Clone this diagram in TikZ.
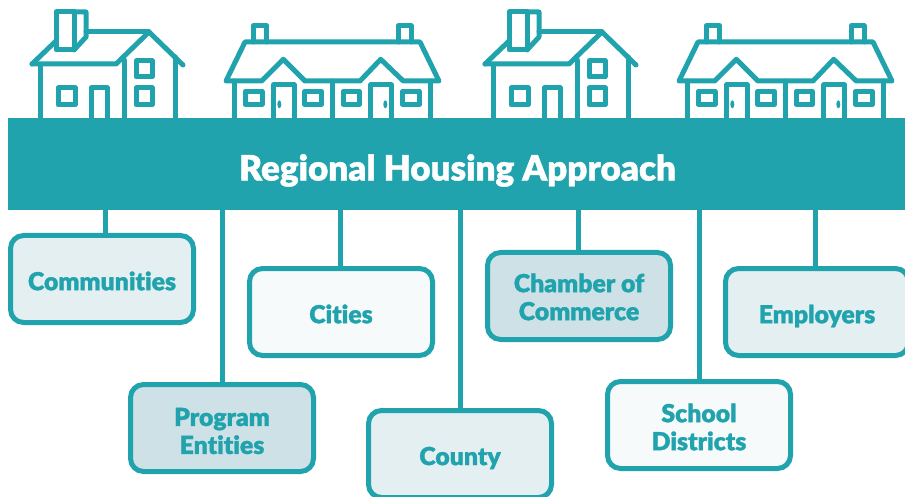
\documentclass[tikz,border=0pt]{standalone}
\usepackage{fontspec}
\setmainfont{Lato}[BoldFont=Lato Black,BoldFeatures={FakeBold=1.2},Ligatures=NoCommon]
\definecolor{teal1}{HTML}{21A3AD}
\definecolor{fillA}{HTML}{E4EFF1}
\definecolor{fillB}{HTML}{CDE1E6}
\definecolor{fillC}{HTML}{F6FAFB}
\newcommand\lowr[2]{\raisebox{-#1pt}[\height][\depth]{#2}}
\tikzset{
  box/.style={draw=teal1,line width=5pt,rounded corners=13pt,minimum width=183pt,minimum height=87pt,inner sep=0pt,align=center,text=teal1,font=\bfseries\fontsize{24.8}{28}\selectfont},
  link/.style={draw=teal1,line width=5pt},
  hs/.style={draw=teal1,line width=5pt,line join=round,line cap=round},
  banner/.style={fill=teal1,minimum width=897pt,minimum height=92pt,inner sep=0pt},
  pics/houseA/.style={code={
    \draw[hs] (32,64) -- (116,64) -- (149,32) -- (183,65);
    \draw[hs] (32,64) -- (56,41);
    \draw[hs] (86,32) -- (149,32);
    \draw[hs] (56,12) rectangle (74,50);
    \draw[hs] (74,12) -- (86,12) -- (86,37) -- (74,50);
    \draw[hs] (40,65) -- (40,118) (124,60) -- (124,118) (175,57) -- (175,118);
    \draw[hs] (58,88) rectangle (75,105);
    \draw[hs] (91,118) -- (91,88) -- (107,88) -- (107,118);
    \draw[hs] (136,61) rectangle (152,77);
    \draw[hs] (136,88) rectangle (152,105);
  }},
  pics/houseB/.style={code={
    \draw[hs] (226,81) -- (261.7,81) -- (283.3,59.3) -- (305,81) -- (360,81) -- (380.7,59.3) -- (403.3,81) -- (439,81) -- (420,42) -- (245,42) -- cycle;
    \draw[hs] (253.3,42) -- (253.3,25.7) -- (266.7,25.7) -- (266.7,42);
    \draw[hs] (398.3,42) -- (398.3,25.7) -- (411,25.7) -- (411,42);
    \draw[hs] (234.3,81) -- (234.3,118) (332.3,81) -- (332.3,118) (430,81) -- (430,118);
    \draw[hs] (273.3,118) -- (273.3,85) -- (294,85) -- (294,118);
    \draw[hs] (370.7,118) -- (370.7,85) -- (391.7,85) -- (391.7,118);
    \fill[teal1] (279.3,104.3) ellipse (2pt and 4pt);
    \fill[teal1] (385.3,104.3) ellipse (2pt and 4pt);
    \draw[hs] (245,91.3) rectangle (262,104.3);
    \draw[hs] (304.7,91.3) rectangle (321.7,104.3);
    \draw[hs] (343,91.3) rectangle (359.3,104.3);
    \draw[hs] (402.3,91.3) rectangle (419.3,104.3);
  }}
}
\begin{document}
\begin{tikzpicture}[x=1pt,y=-1pt]
\useasboundingbox (0,0) rectangle (905,497);
\clip (0,0) rectangle (905,497);
\pic at (0,0) {houseA};
\pic at (453,0) {houseA};
\pic at (0,0) {houseB};
\pic at (453,0) {houseB};
\node[banner] (band) at (456.5,164) {};
\node[text=white,font=\bfseries\fontsize{35}{40}\selectfont] (title) at (457.5,170.5) {Regional Housing Approach};
\node[box,fill=fillA] (comm) at (102,279) {\lowr{2}{Communities}};
\node[box,fill=fillB] (prog) at (222,428) {\lowr{3}{Program}\\\lowr{3}{Entities}};
\node[box,fill=fillC] (city) at (341,312) {\lowr{2}{Cities}};
\node[box,fill=fillA] (cnty) at (460,454) {\lowr{4}{County}};
\node[box,fill=fillB] (cham) at (579,296) {\lowr{1}{Chamber of}\\\lowr{1}{Commerce}};
\node[box,fill=fillC] (schl) at (699,425) {\lowr{2}{School}\\\lowr{2}{Districts}};
\node[box,fill=fillA] (empl) at (817,312) {\lowr{4}{Employers}};
\draw[link] ([xshift=3pt]comm.north) -- ([xshift=3pt]comm.north |- band.south);
\draw[link] (prog.north) -- (prog.north |- band.south);
\draw[link] ([xshift=-1pt]city.north) -- ([xshift=-1pt]city.north |- band.south);
\draw[link] (cnty.north) -- (cnty.north |- band.south);
\draw[link] ([xshift=-1pt]cham.north) -- ([xshift=-1pt]cham.north |- band.south);
\draw[link] (schl.north) -- (schl.north |- band.south);
\draw[link] ([xshift=-2pt]empl.north) -- ([xshift=-2pt]empl.north |- band.south);
\end{tikzpicture}
\end{document}
